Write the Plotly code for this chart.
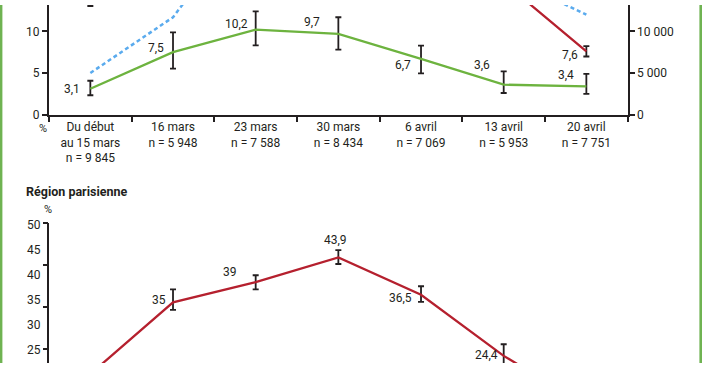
import plotly.graph_objects as go

W, H = 702, 370

# ---------------- data ----------------
categories = [
    "Du début<br>au 15 mars<br>n = 9 845",
    "16 mars<br>n = 5 948",
    "23 mars<br>n = 7 588",
    "30 mars<br>n = 8 434",
    "6 avril<br>n = 7 069",
    "13 avril<br>n = 5 953",
    "20 avril<br>n = 7 751",
]
green_pct = [3.1, 7.5, 10.2, 9.7, 6.7, 3.6, 3.4]
green_err_plus = [0.97, 2.38, 2.2, 2.0, 1.6, 1.6, 1.5]
green_err_minus = [0.77, 1.97, 1.87, 1.9, 1.75, 1.0, 0.9]

red_pct = [14.5, 20.0, 27.0, 26.0, 22.0, 15.9, 7.6]
red_err_plus = [1.45, 1.5, 1.5, 1.5, 1.5, 1.2, 0.62]
red_err_minus = [1.45, 1.5, 1.5, 1.5, 1.5, 1.2, 0.62]

blue_count = [5000, 11700, 24900, 28000, 22000, 16800, 12000]

paris_pct = [20.8, 35, 39, 43.9, 36.5, 24.4, 14.6]
paris_err_plus = [1.8, 2.55, 1.36, 1.44, 1.68, 2.3, 2.0]
paris_err_minus = [1.8, 1.48, 1.45, 1.31, 1.39, 2.3, 2.0]

left_ticks = [0, 5, 10]
right_ticks = [0, 5000, 10000]
right_tick_text = ["0", "5 000", "10 000"]
paris_tick_labels = [25, 30, 35, 40, 45, 50]
paris_tick_marks = [50, 41.667, 33.333, 25]

# ---------------- style ----------------
FONT = "Roboto, 'DejaVu Sans', sans-serif"
INK = "#231f20"
GREEN = "#6db33f"
RED = "#b5202e"
BLUE = "#5aabee"
BORDER = "#6fb352"

X0, X1 = 49 / W, 627.7 / W
TOP_DOM = [1 - 113.3 / H, 1]
BOT_DOM = [0, (H - 225.7) / H]
TOP_RANGE = [0, 13.17]
BOT_RANGE = [22.99, 50.63]
TICK_RANGE = [22.25, 50.0]
LABEL_RANGE = [22.43, 50.31]


def fmt(v):
    return ("%g" % v).replace(".", ",")


def err(plus, minus):
    return dict(type="data", array=plus, arrayminus=minus, color=INK,
                thickness=1.8, width=3, visible=True)


fig = go.Figure()
fig.add_trace(go.Scatter(x=categories, y=blue_count, xaxis="x", yaxis="y2",
                         mode="lines", line=dict(color=BLUE, width=2.5, dash="4px,3px"),
                         hoverinfo="skip"))
fig.add_trace(go.Scatter(x=categories, y=red_pct, xaxis="x", yaxis="y",
                         mode="lines", line=dict(color=RED, width=2.3),
                         error_y=err(red_err_plus, red_err_minus), hoverinfo="skip"))
fig.add_trace(go.Scatter(x=categories, y=green_pct, xaxis="x", yaxis="y",
                         mode="lines", line=dict(color=GREEN, width=2.3),
                         error_y=err(green_err_plus, green_err_minus), hoverinfo="skip"))
fig.add_trace(go.Scatter(x=categories, y=paris_pct, xaxis="x2", yaxis="y3",
                         mode="lines", line=dict(color=RED, width=2.3),
                         error_y=err(paris_err_plus, paris_err_minus), hoverinfo="skip"))
# invisible helpers so the overlaying tick / label axes are drawn
fig.add_trace(go.Scatter(x=[categories[0]], y=[paris_tick_marks[0]], xaxis="x2", yaxis="y4",
                         mode="markers", marker=dict(opacity=0), hoverinfo="skip"))
fig.add_trace(go.Scatter(x=[categories[0]], y=[paris_tick_labels[-1]], xaxis="x2", yaxis="y5",
                         mode="markers", marker=dict(opacity=0), hoverinfo="skip"))

annotations = []

# label offsets (xshift, yshift, xanchor)
green_off = [(-8, 0, "right"), (-7, 4, "right"), (-6, 6, "right"), (-16, 12, "right"),
             (-8, -6, "right"), (-12, 20, "right"), (-10, 11, "right")]
red_off = [(-6, -4, "right")] * 7
paris_off = [(-5, 2, "right"), (-5, 2, "right"), (-17, 10, "right"), (-2.5, 17, "center"),
             (-7.5, -3, "right"), (-4, 1, "right"), (-4, 1, "right")]


def add_labels(values, offs, yref, rng):
    for c, v, (dx, dy, xa) in zip(categories, values, offs):
        if rng[0] <= v <= rng[1]:
            annotations.append(dict(x=c, y=v, xref="x" if yref == "y" else "x2", yref=yref,
                                    text=fmt(v), showarrow=False, xanchor=xa, yanchor="middle",
                                    xshift=dx, yshift=dy, font=dict(size=12, color=INK)))


add_labels(green_pct, green_off, "y", TOP_RANGE)
add_labels(red_pct, red_off, "y", TOP_RANGE)
add_labels(paris_pct, paris_off, "y3", BOT_RANGE)

annotations += [
    dict(x=43 / W, y=1 - 128 / H, xref="paper", yref="paper", text="%", showarrow=False,
         xanchor="center", yanchor="middle", font=dict(size=11, color=INK)),
    dict(x=48 / W, y=1 - 211 / H, xref="paper", yref="paper", text="%", showarrow=False,
         xanchor="center", yanchor="middle", font=dict(size=11, color=INK)),
    dict(x=24 / W, y=1 - 193 / H, xref="paper", yref="paper", text="<b>Région parisienne</b>",
         showarrow=False, xanchor="left", yanchor="middle", font=dict(size=12.5, color=INK)),
]

axis_common = dict(showgrid=False, zeroline=False, linecolor=INK, tickcolor=INK,
                   tickfont=dict(size=12, color=INK))

fig.update_layout(
    width=W, height=H,
    margin=dict(l=0, r=0, t=0, b=0, pad=0),
    paper_bgcolor="white", plot_bgcolor="white",
    showlegend=False,
    font=dict(family=FONT, size=12, color=INK),
    xaxis=dict(domain=[X0, X1], anchor="y", type="category", categoryorder="array",
               categoryarray=categories, range=[-0.5, 6.5], tickson="boundaries",
               ticks="outside", ticklen=5, tickwidth=2, showline=True, linewidth=2,
               **axis_common),
    yaxis=dict(domain=TOP_DOM, anchor="x", range=TOP_RANGE, tickvals=left_ticks,
               ticks="outside", ticklen=5, tickwidth=2, showline=True, linewidth=2,
               **axis_common),
    yaxis2=dict(overlaying="y", side="right", anchor="x", range=[0, 13170],
                tickvals=right_ticks, ticktext=right_tick_text, ticks="outside",
                ticklen=5, tickwidth=2, showline=True, linewidth=2, **axis_common),
    xaxis2=dict(domain=[X0, X1], anchor="y3", type="category", categoryorder="array",
                categoryarray=categories, range=[-0.5, 6.5], showticklabels=False,
                ticks="", showline=False, showgrid=False, zeroline=False),
    yaxis3=dict(domain=BOT_DOM, anchor="x2", range=BOT_RANGE, ticks="",
                showticklabels=False, showline=True, linewidth=2, **axis_common),
    yaxis4=dict(overlaying="y3", anchor="x2", side="left", range=TICK_RANGE,
                tickvals=paris_tick_marks, ticks="outside", ticklen=5, tickwidth=2,
                showticklabels=False, showline=False, **axis_common),
    yaxis5=dict(overlaying="y3", anchor="x2", side="left", range=LABEL_RANGE,
                tickvals=paris_tick_labels, ticks="outside", ticklen=5,
                showline=False, showgrid=False, zeroline=False,
                tickcolor="rgba(0,0,0,0)", tickfont=dict(size=12, color=INK)),
    annotations=annotations,
    shapes=[
        dict(type="rect", xref="paper", yref="paper", x0=0, x1=2.4 / W, y0=0, y1=1,
             fillcolor=BORDER, line=dict(width=0)),
        dict(type="rect", xref="paper", yref="paper", x0=699.4 / W, x1=1, y0=0, y1=1,
             fillcolor=BORDER, line=dict(width=0)),
    ],
)

fig.write_html("out.html", config={"displayModeBar": False},
               post_script="document.body.style.margin='0';document.body.style.overflow='hidden';")
